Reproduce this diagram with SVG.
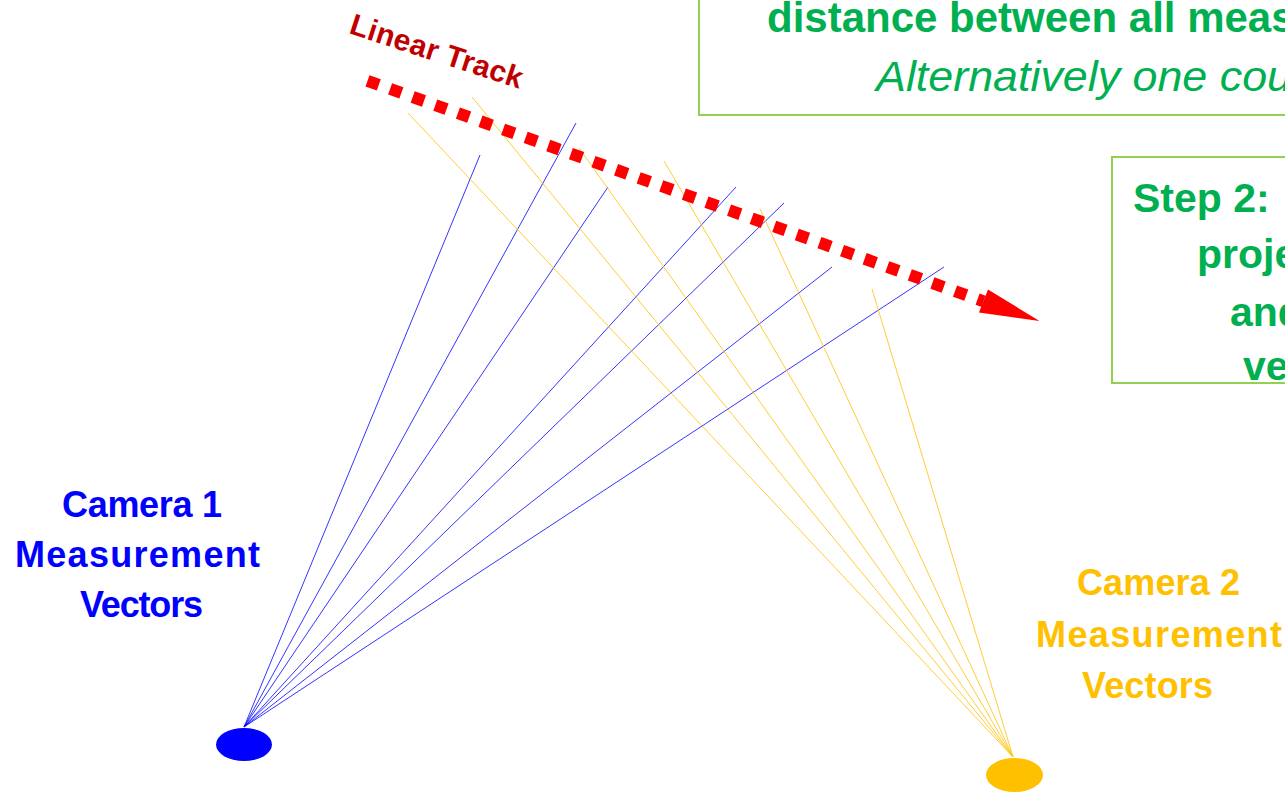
<svg xmlns="http://www.w3.org/2000/svg" width="1285" height="793" viewBox="0 0 1285 793">
<style>
.bold{font-family:"Liberation Sans",Arial,sans-serif;font-weight:bold}
.green{fill:#00B050}
.box{fill:#FFFFFF;stroke:#92D050;stroke-width:2}
.v1{stroke:#0000FF;stroke-width:0.8;fill:none}
.v2{stroke:#FFC000;stroke-width:0.8;fill:none}
.c1{fill:#0000FF}
.c2{fill:#FFC000}
</style>
<rect width="1285" height="793" fill="#FFFFFF"/>
<g id="box1">
<rect class="box" x="699" y="-10" width="620" height="125"/>
<text class="bold green" x="767" y="32" font-size="42">distance between all meas</text>
<text class="green" x="876" y="91" font-size="42" font-family="Liberation Sans, Arial, sans-serif" font-style="italic" textLength="416" lengthAdjust="spacingAndGlyphs">Alternatively one cou</text>
</g>
<g id="box2">
<rect class="box" x="1112" y="157" width="200" height="226"/>
<text class="bold green" x="1133" y="212" font-size="41">Step 2:</text>
<text class="bold green" x="1197" y="268" font-size="41">proje</text>
<text class="bold green" x="1230" y="326" font-size="41">and</text>
<text class="bold green" x="1243" y="380" font-size="41">ve</text>
</g>
<g id="connectors">
<g id="camera1-vectors" class="v1">
<line x1="244" y1="727" x2="480" y2="155"/>
<line x1="244" y1="727" x2="576" y2="123"/>
<line x1="244" y1="727" x2="608" y2="187"/>
<line x1="244" y1="727" x2="736" y2="187"/>
<line x1="244" y1="727" x2="784" y2="203"/>
<line x1="244" y1="727" x2="832" y2="267"/>
<line x1="244" y1="727" x2="944" y2="267"/>
</g>
<g id="camera2-vectors" class="v2">
<line x1="1013" y1="757" x2="408" y2="113"/>
<line x1="1013" y1="757" x2="472" y2="97"/>
<line x1="1013" y1="757" x2="579" y2="148"/>
<line x1="1013" y1="757" x2="664" y2="161"/>
<line x1="1013" y1="757" x2="760" y2="209"/>
<line x1="1013" y1="757" x2="872" y2="289"/>
</g>
</g>
<g id="track">
<line x1="367.5" y1="80.8" x2="983.5" y2="301.3" stroke="#FF0000" stroke-width="12" stroke-dasharray="12 12"/>
<polygon points="988,289.5 1039.5,321 979,312.5" fill="#FF0000"/>
<text class="bold" fill="#C00000" font-size="30" transform="translate(348,33) rotate(18)" textLength="180">Linear Track</text>
</g>
<g id="camera1">
<ellipse class="c1" cx="244" cy="744.5" rx="28" ry="16.5"/>
<text class="bold c1" font-size="36" x="62" y="517" textLength="160">Camera 1</text>
<text class="bold c1" font-size="36" x="15" y="567" textLength="245">Measurement</text>
<text class="bold c1" font-size="36" x="80" y="617" textLength="123">Vectors</text>
</g>
<g id="camera2">
<ellipse class="c2" cx="1014.5" cy="775" rx="28.5" ry="17"/>
<text class="bold c2" font-size="36" x="1077" y="595" textLength="163">Camera 2</text>
<text class="bold c2" font-size="36" x="1036" y="647" textLength="246">Measurement</text>
<text class="bold c2" font-size="36" x="1082" y="698" textLength="131">Vectors</text>
</g>
</svg>
